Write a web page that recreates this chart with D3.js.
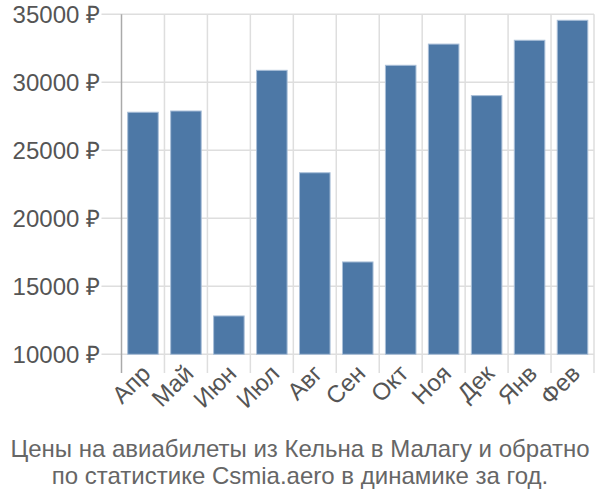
<!DOCTYPE html>
<html><head><meta charset="utf-8">
<script src="https://cdn.jsdelivr.net/npm/d3@7"></script>
<style>body{margin:0;background:#fff;}svg{display:block;font-family:"Liberation Sans",Arial,sans-serif;}</style>
</head><body><svg id="c" width="600" height="500"></svg>
<script>
const months = ["Апр","Май","Июн","Июл","Авг","Сен","Окт","Ноя","Дек","Янв","Фев"];
const prices = [27800,27890,12820,30880,23350,16790,31250,32810,29020,33090,34560];
const yTicks = [10000,15000,20000,25000,30000,35000];
const titleLines = ["Цены на авиабилеты из Кельна в Малагу и обратно","по статистике Csmia.aero в динамике за год."];

const svg = d3.select("#c");
const x = d3.scaleBand().domain(months).range([121.5,594]).padding(0);
const y = d3.scaleLinear().domain([10000,35000]).range([354.3,14.3]);
const inset = 6.2;

// horizontal grid
svg.append("g").selectAll("line").data(yTicks).join("line")
  .attr("x1",101.5).attr("x2",594).attr("y1",d=>y(d)).attr("y2",d=>y(d))
  .attr("stroke","#dedede").attr("stroke-width",1.5);
// vertical grid
svg.append("g").selectAll("line").data(months).join("line")
  .attr("x1",(d,i)=>x(d)+x.step()).attr("x2",(d,i)=>x(d)+x.step())
  .attr("y1",14.3).attr("y2",373)
  .attr("stroke","#dedede").attr("stroke-width",1.5);
// y axis line
svg.append("line").attr("x1",121.5).attr("x2",121.5).attr("y1",14.3).attr("y2",373)
  .attr("stroke","#aaaaaa").attr("stroke-width",1.5);

// bars
svg.append("g").selectAll("rect").data(months).join("rect")
  .attr("x",d=>x(d)+inset).attr("width",x.bandwidth()-2*inset)
  .attr("y",(d,i)=>y(prices[i])).attr("height",(d,i)=>y(10000)-y(prices[i]))
  .attr("fill","#4d78a6").attr("stroke","#a9bfd8").attr("stroke-width",1);

// y labels
svg.append("g").selectAll("text").data(yTicks).join("text")
  .attr("x",100).attr("y",d=>y(d)).attr("dy","0.35em").attr("text-anchor","end")
  .attr("font-size",24).attr("fill","#555").text(d=>d+" ₽");

// x labels
svg.append("g").selectAll("text").data(months).join("text")
  .attr("transform",d=>`translate(${x(d)+x.bandwidth()/2+9},${375}) rotate(-45)`)
  .attr("text-anchor","end").attr("font-size",24).attr("fill","#555").text(d=>d);

// title
svg.append("g").selectAll("text").data(titleLines).join("text")
  .attr("x",300).attr("y",(d,i)=>456.5+i*27).attr("text-anchor","middle")
  .attr("font-size",24).attr("fill","#666").text(d=>d);
</script></body></html>
